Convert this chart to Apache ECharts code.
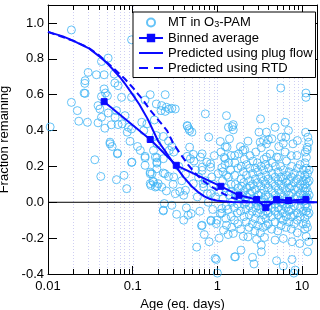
<!DOCTYPE html>
<html>
<head>
<meta charset="utf-8">
<script src="https://cdn.jsdelivr.net/npm/echarts@6/dist/echarts.min.js"></script>
<style>html,body{margin:0;padding:0;background:#fff}#c{width:320px;height:310px}</style>
</head>
<body>
<div id="c"></div>
<script>
// ---- data ----
const xTicks = [0.01, 0.1, 1, 10];
const xMinor = [0.02,0.03,0.04,0.05,0.06,0.07,0.08,0.09,0.2,0.3,0.4,0.5,0.6,0.7,0.8,0.9,2,3,4,5,6,7,8,9];
const xGrid = [0.02,0.03,0.04,0.05,0.06,0.07,0.08,0.09,0.1,0.2,0.3,0.4,0.5,0.6,0.7,0.8,0.9,1,2,3,4,5,6,7,8,9,10];
const yTicks = [-0.4,-0.2,0,0.2,0.4,0.6,0.8,1.0];

const mtYoung = [[0.0106,0.42],[0.0189,0.961],[0.097,0.906],[0.0513,0.804],[0.0428,0.785],[0.0298,0.724],[0.0373,0.711],[0.046,0.711],[0.0604,0.715],[0.0272,0.663],[0.0615,0.665],[0.0673,0.65],[0.0267,0.609],[0.046,0.632],[0.0477,0.609],[0.0428,0.59],[0.0503,0.594],[0.0739,0.585],[0.097,0.585],[0.0189,0.557],[0.039,0.539],[0.0222,0.511],[0.041,0.52],[0.0513,0.498],[0.0643,0.511],[0.081,0.483],[0.0428,0.474],[0.0231,0.452],[0.0292,0.446],[0.039,0.443],[0.056,0.432],[0.0673,0.433],[0.0751,0.437],[0.0469,0.413],[0.0862,0.391],[0.097,0.409],[0.054,0.335],[0.0572,0.311],[0.093,0.34],[0.114,0.311],[0.0663,0.274],[0.0357,0.237],[0.097,0.222],[0.042,0.144],[0.0643,0.126],[0.079,0.15],[0.085,0.076],[0.0274,0.678],[0.0274,0.607],[0.062,0.474],[0.089,0.418],[0.054,0.326],[0.066,0.27]];
const mtEarly = [[0.161,0.6],[0.242,0.6],[0.14,0.57],[0.19,0.548],[0.22,0.539],[0.216,0.511],[0.242,0.507],[0.29,0.524],[0.318,0.52],[0.128,0.446],[0.147,0.437],[0.18,0.459],[0.135,0.4],[0.19,0.372],[0.23,0.367],[0.265,0.341],[0.29,0.311],[0.27,0.289],[0.305,0.28],[0.193,0.326],[0.176,0.289],[0.14,0.256],[0.185,0.252],[0.193,0.224],[0.161,0.168],[0.169,0.159],[0.23,0.163],[0.265,0.144],[0.305,0.141],[0.176,0.113],[0.193,0.089],[0.164,0.094],[0.25,0.063],[0.318,0.048],[0.4,0.039],[0.236,-0.007],[0.23,-0.048],[0.33,-0.067],[0.43,-0.031],[0.49,-0.063],[0.098,0.224],[0.123,0.289],[0.14,0.248],[0.14,0.206],[0.161,0.159],[0.193,0.248],[0.193,0.218],[0.193,0.187],[0.161,0.104],[0.173,0.118],[0.185,0.085],[0.2,0.104],[0.25,0.53],[0.27,0.52],[0.44,0.428],[0.46,0.41]];
const mtMid = [[0.72,0.493],[1.28,0.483],[0.443,0.424],[0.47,0.4],[0.5,0.391],[0.79,0.363],[1.08,0.339],[1.39,0.354],[0.47,0.307],[0.66,0.27],[1.24,0.243],[0.66,0.196],[0.83,0.196],[0.75,0.224],[1.13,0.193],[1.28,0.15],[0.86,0.141],[0.68,0.104],[0.83,0.048],[1.04,0.057],[1.13,-0.035],[1.08,-0.063],[0.99,-0.1],[0.84,-0.104],[0.97,-0.119],[1.18,-0.156],[0.65,-0.131],[1.28,-0.128],[0.97,-0.319],[0.23,0.243],[0.24,0.159],[0.22,0.085],[0.23,-0.044],[0.44,0.256],[0.48,0.243],[0.63,0.252],[0.83,0.215],[0.66,0.178],[0.42,0.156],[0.52,0.104],[0.69,0.085],[0.42,0.067],[0.76,0.048],[0.29,-0.017],[0.45,-0.072],[0.66,-0.128],[0.84,-0.1],[0.94,-0.313],[1.63,-0.304],[1.0,-0.395],[0.35,0.2],[0.38,0.12],[0.55,0.18],[0.58,0.03],[0.6,0.14],[0.72,0.12],[0.78,0.0],[0.9,0.1],[0.95,0.03],[1.02,0.16],[0.88,-0.04],[0.62,-0.05],[0.53,0.23],[0.36,0.06],[0.4,-0.1],[0.7,-0.18],[0.8,-0.22],[1.05,-0.2],[0.57,-0.25],[0.92,0.26],[1.1,0.28],[0.3,0.1],[1.35,0.418],[1.5,0.422],[1.45,0.261],[0.52,0.267],[1.3,0.307]];
const mtUpper = [[5.6,0.637],[11.1,0.609],[11.1,0.585],[3.23,0.465],[1.54,0.433],[1.54,0.404],[6.3,0.446],[4.8,0.418],[6.9,0.4],[3.1,0.391],[3.8,0.391],[5.7,0.363],[4.4,0.354],[6.4,0.363],[11.7,0.363],[3.5,0.344],[3.8,0.326],[6.0,0.329],[5.3,0.311],[7.8,0.326],[3.3,0.304],[2.3,0.341],[12.0,0.335],[11.5,0.293],[2.1,0.293],[4.2,0.27],[6.3,0.28],[8.7,0.261],[1.6,0.261],[3.8,0.252],[5.0,0.252],[10.9,0.28],[2.0,0.289],[3.2,0.335],[4.0,0.348],[8.8,0.344],[11.0,0.39],[11.5,0.307]];
const mtLower = [[1.9,-0.267],[1.6,-0.304],[2.6,-0.307],[3.3,-0.276],[5.0,-0.326],[7.6,-0.319],[11.6,-0.276],[6.0,-0.356],[2.7,-0.344],[8.3,-0.378],[1.54,-0.174],[2.3,-0.193],[2.9,-0.207],[3.6,-0.196],[4.8,-0.211],[6.0,-0.202],[7.6,-0.22],[9.4,-0.23],[12,-0.22],[3.3,-0.239],[8.0,-0.395]];
const mtBand = [[1.15,0.12],[1.17,0.02],[1.13,-0.06],[1.2,0.25],[1.16,0.17],[1.25,0.08],[1.27,-0.02],[1.23,0.21],[1.26,-0.09],[1.24,0.31],[1.35,0.14],[1.37,0.04],[1.33,-0.04],[1.36,0.22],[1.34,-0.18],[1.45,0.1],[1.47,0.0],[1.43,0.18],[1.46,-0.08],[1.44,0.06],[1.48,-0.14],[1.6,0.15],[1.62,0.05],[1.58,-0.03],[1.61,0.22],[1.59,-0.1],[1.63,0.1],[1.75,0.19],[1.77,0.08],[1.73,-0.01],[1.76,0.03],[1.74,-0.12],[1.78,0.27],[1.72,-0.06],[1.9,0.13],[1.92,0.04],[1.88,-0.05],[1.91,0.2],[1.89,-0.15],[1.93,0.09],[1.87,0.31],[2.05,0.11],[2.07,-0.01],[2.03,0.17],[2.06,-0.08],[2.04,0.06],[2.08,0.24],[2.02,-0.19],[2.2,0.15],[2.22,0.03],[2.18,-0.04],[2.21,0.21],[2.19,-0.11],[2.23,0.08],[2.17,0.0],[2.4,0.12],[2.42,0.05],[2.38,-0.07],[2.41,0.19],[2.39,-0.02],[2.43,0.26],[2.37,-0.14],[2.44,0.09],[2.6,0.16],[2.62,0.02],[2.58,-0.05],[2.61,0.1],[2.59,-0.12],[2.63,0.23],[2.57,0.06],[2.8,0.13],[2.82,0.0],[2.78,-0.09],[2.81,0.07],[2.79,0.19],[2.83,-0.03],[2.77,-0.16],[2.84,0.28],[3.0,0.11],[3.02,0.04],[2.98,-0.06],[3.01,0.17],[2.99,-0.13],[3.03,0.01],[2.97,0.22],[3.04,-0.02],[3.25,0.14],[3.27,0.05],[3.23,-0.04],[3.26,0.09],[3.24,-0.1],[3.28,0.2],[3.22,-0.17],[3.29,0.0],[3.5,0.12],[3.52,0.02],[3.48,-0.07],[3.51,0.18],[3.49,-0.02],[3.53,0.07],[3.47,-0.14],[3.54,0.24],[3.75,0.1],[3.77,-0.01],[3.73,-0.09],[3.76,0.15],[3.74,0.04],[3.78,-0.05],[3.72,0.21],[3.79,-0.13],[4.0,0.13],[4.02,0.03],[3.98,-0.06],[4.01,0.08],[3.99,-0.12],[4.03,0.19],[3.97,-0.02],[4.4,0.11],[4.42,0.01],[4.38,-0.08],[4.41,0.16],[4.39,-0.03],[4.43,0.06],[4.37,-0.15],[4.44,0.22],[4.8,0.14],[4.82,0.04],[4.78,-0.05],[4.81,0.09],[4.79,-0.11],[4.83,0.2],[4.77,-0.01],[5.2,0.12],[5.22,0.02],[5.18,-0.07],[5.21,0.17],[5.19,-0.03],[5.23,0.07],[5.17,-0.16],[5.24,0.25],[5.6,0.1],[5.62,0.0],[5.58,-0.09],[5.61,0.14],[5.59,0.05],[5.63,-0.04],[5.57,0.2],[5.64,-0.13],[6.0,0.13],[6.02,0.03],[5.98,-0.06],[6.01,0.08],[5.99,-0.1],[6.03,0.18],[5.97,-0.01],[6.5,0.11],[6.52,0.01],[6.48,-0.08],[6.51,0.15],[6.49,-0.03],[6.53,0.06],[6.47,-0.14],[6.54,0.23],[7.0,0.12],[7.02,0.04],[6.98,-0.05],[7.01,0.17],[6.99,-0.11],[7.03,0.08],[6.97,-0.01],[7.5,0.14],[7.52,0.05],[7.48,-0.04],[7.51,0.09],[7.49,-0.08],[7.53,0.2],[7.47,-0.15],[7.54,0.0],[7.46,0.26],[8.1,0.11],[8.12,0.02],[8.08,-0.07],[8.11,0.16],[8.09,-0.02],[8.13,0.07],[8.07,-0.12],[8.8,0.13],[8.82,0.03],[8.78,-0.06],[8.81,0.19],[8.79,-0.1],[8.83,0.08],[8.77,-0.17],[9.5,0.1],[9.52,0.01],[9.48,-0.08],[9.51,0.15],[9.49,0.05],[9.53,-0.03],[9.47,0.21],[10.3,0.12],[10.32,0.04],[10.28,-0.05],[10.31,0.18],[10.29,-0.12],[10.33,0.08],[10.8,0.15],[10.82,0.06],[10.78,-0.02],[10.81,0.1],[10.79,-0.09],[10.83,0.22],[10.77,-0.15],[10.84,0.01],[11.2,0.13],[11.22,0.03],[11.18,-0.05],[11.21,0.08],[11.19,-0.12],[11.23,0.19],[11.17,-0.19],[11.24,0.25],[11.16,-0.01],[11.6,0.11],[11.62,0.02],[11.58,-0.07],[11.61,0.16],[11.59,-0.03],[11.63,0.06],[11.57,-0.14],[12.1,0.12],[12.12,0.04],[12.08,-0.06],[12.11,0.18]];

const binAge = [0.046,0.161,0.327,1.1,1.8,2.9,3.73,5.0,6.9,11.1];
const binFrac = [0.561,0.35,0.206,0.089,0.039,0.015,-0.03,0.015,0.01,0.015];

const plugAge = [0.01,0.015,0.02,0.03,0.04,0.05,0.06,0.07,0.08,0.1,0.12,0.15,0.2,0.25,0.3,0.4,0.5,0.6,0.7,0.8,1.0,1.5,2,5,15];
const plugFrac = [0.95,0.925,0.9,0.86,0.815,0.775,0.735,0.7,0.665,0.6,0.545,0.465,0.34,0.275,0.22,0.14,0.088,0.055,0.033,0.02,0.008,0.001,0,0,0];

const rtdAge = [0.01,0.02,0.03,0.04,0.06,0.08,0.1,0.134,0.16,0.2,0.254,0.3,0.365,0.45,0.55,0.7,0.9,1.2,1.5,1.88,2.5,4,15];
const rtdFrac = [0.95,0.9,0.862,0.82,0.745,0.69,0.64,0.567,0.515,0.46,0.4,0.33,0.27,0.21,0.16,0.115,0.08,0.045,0.025,0.011,0.003,0,0];

const X_MIN = 0.01, X_MAX = 15, Y_MIN = -0.4, Y_MAX = 1.1;
const FONT = 'Liberation Sans, Arial, sans-serif';
const SC = '#3fb4f5';
const BL = '#0a0aff';

const zip = (a, b) => a.map((v, i) => [v, b[i]]);
const mtAll = [].concat(mtYoung, mtEarly, mtMid, mtUpper, mtLower, mtBand);

const chart = echarts.init(document.getElementById('c'), null, {renderer: 'canvas'});
const matchTick = v => xTicks.find(t => Math.abs(t - v) / t < 1e-6);

const axisCommonX = {
  type: 'log', logBase: 10, min: X_MIN, max: X_MAX,
  axisLine: {show: true, onZero: false, lineStyle: {color: '#000', width: 1}},
  axisTick: {show: true, inside: true, length: 8, lineStyle: {color: '#000'}},
  splitLine: {show: false}, minorTick: {show: false}
};
const axisCommonY = {
  type: 'value', min: Y_MIN, max: Y_MAX, interval: 0.2,
  axisLine: {show: true, onZero: false, lineStyle: {color: '#000', width: 1}},
  axisTick: {show: true, inside: true, length: 9, lineStyle: {color: '#000'}},
  splitLine: {show: false}
};

const option = {
  animation: false,
  backgroundColor: '#fff',
  textStyle: {fontFamily: FONT},
  grid: {left: 48, right: 3, top: 5, bottom: 36, containLabel: false, outerBoundsMode: 'none'},
  xAxis: [
    Object.assign({}, axisCommonX, {
      position: 'bottom',
      name: 'Age (eq. days)', nameLocation: 'middle', nameGap: 19,
      nameTextStyle: {fontSize: 13, color: '#000', fontFamily: FONT},
      axisLabel: {show: true, margin: 6, fontSize: 13, color: '#000', fontFamily: FONT,
        formatter: v => { const t = matchTick(v); return t === undefined ? '' : String(t); }}
    }),
    Object.assign({}, axisCommonX, {position: 'top', axisLabel: {show: false}})
  ],
  yAxis: [
    Object.assign({}, axisCommonY, {
      position: 'left',
      name: 'Fraction remaining', nameLocation: 'middle', nameGap: 31,
      nameTextStyle: {fontSize: 13, color: '#000', fontFamily: FONT},
      axisLabel: {show: true, margin: 4, fontSize: 13, color: '#000', fontFamily: FONT,
        formatter: v => yTicks.some(t => Math.abs(t - v) < 1e-6) ? v.toFixed(1) : ''}
    }),
    Object.assign({}, axisCommonY, {position: 'right', axisLabel: {show: false}})
  ],
  legend: {
    orient: 'vertical', left: 133, top: 12,
    data: [
      {name: 'MT in O3-PAM'},
      {name: 'Binned average'},
      {name: 'Predicted using plug flow', icon: 'path://M0,0H24V2H0Z'},
      {name: 'Predicted using RTD', icon: 'path://M0,0H9V2H0Z M15,0H24V2H15Z'}
    ],
    backgroundColor: '#fff', borderColor: '#000', borderWidth: 1,
    padding: [4, 3, 3, 5], itemWidth: 24, itemHeight: 8, itemGap: 2,
    textStyle: {fontSize: 13, color: '#000', fontFamily: FONT,
      rich: {sub: {fontSize: 9, fontFamily: FONT, color: '#000', verticalAlign: 'bottom', padding: [5, 0, 0, 0]}}},
    formatter: name => name === 'MT in O3-PAM' ? 'MT in O{sub|3}-PAM' : name,
    selectedMode: false
  },
  series: [
    {
      type: 'custom', name: 'grid', silent: true, z: 0,
      coordinateSystem: 'cartesian2d',
      data: xGrid.map(v => [v, 0]),
      encode: {x: 0, y: 1},
      renderItem: (params, api) => {
        const v = api.value(0);
        const b = api.coord([v, Y_MIN]), t = api.coord([v, Y_MAX]);
        const x = Math.round(b[0]) + 0.5;
        return {type: 'line', shape: {x1: x, y1: b[1], x2: x, y2: t[1]},
          style: {stroke: '#cfcff3', lineWidth: 1, lineDash: [1, 2]}};
      }
    },
    {
      type: 'scatter', name: 'MT in O3-PAM', z: 2,
      data: mtAll, symbol: 'circle', symbolSize: 8,
      itemStyle: {color: 'rgba(255,255,255,0)', borderColor: SC, borderWidth: 1}
    },
    {
      type: 'line', name: 'zero', silent: true, z: 3,
      data: [[X_MIN, 0], [X_MAX, 0]], symbol: 'none',
      lineStyle: {color: '#000', width: 1}
    },
    {
      type: 'line', name: 'Predicted using RTD', z: 4,
      data: zip(rtdAge, rtdFrac), symbol: 'none', smooth: false,
      itemStyle: {color: BL},
      lineStyle: {color: BL, width: 2, type: [7, 4]}
    },
    {
      type: 'line', name: 'Predicted using plug flow', z: 5,
      data: zip(plugAge, plugFrac), symbol: 'none', smooth: false,
      itemStyle: {color: BL},
      lineStyle: {color: BL, width: 2}
    },
    {
      type: 'line', name: 'Binned average', z: 6,
      data: zip(binAge, binFrac), symbol: 'rect', symbolSize: 6,
      itemStyle: {color: BL, borderColor: BL, borderWidth: 1},
      lineStyle: {color: BL, width: 2}
    },
    {
      type: 'custom', name: 'minorTicks', silent: true, z: 10,
      coordinateSystem: 'cartesian2d',
      data: xMinor.map(v => [v, 0]),
      encode: {x: 0, y: 1},
      renderItem: (params, api) => {
        const v = api.value(0);
        const b = api.coord([v, Y_MIN]), t = api.coord([v, Y_MAX]);
        const x = Math.round(b[0]) + 0.5;
        return {type: 'group', children: [
          {type: 'line', shape: {x1: x, y1: b[1], x2: x, y2: b[1] - 5}, style: {stroke: '#000', lineWidth: 1}},
          {type: 'line', shape: {x1: x, y1: t[1], x2: x, y2: t[1] + 5}, style: {stroke: '#000', lineWidth: 1}}
        ]};
      }
    }
  ]
};
chart.setOption(option);
</script>
</body>
</html>
